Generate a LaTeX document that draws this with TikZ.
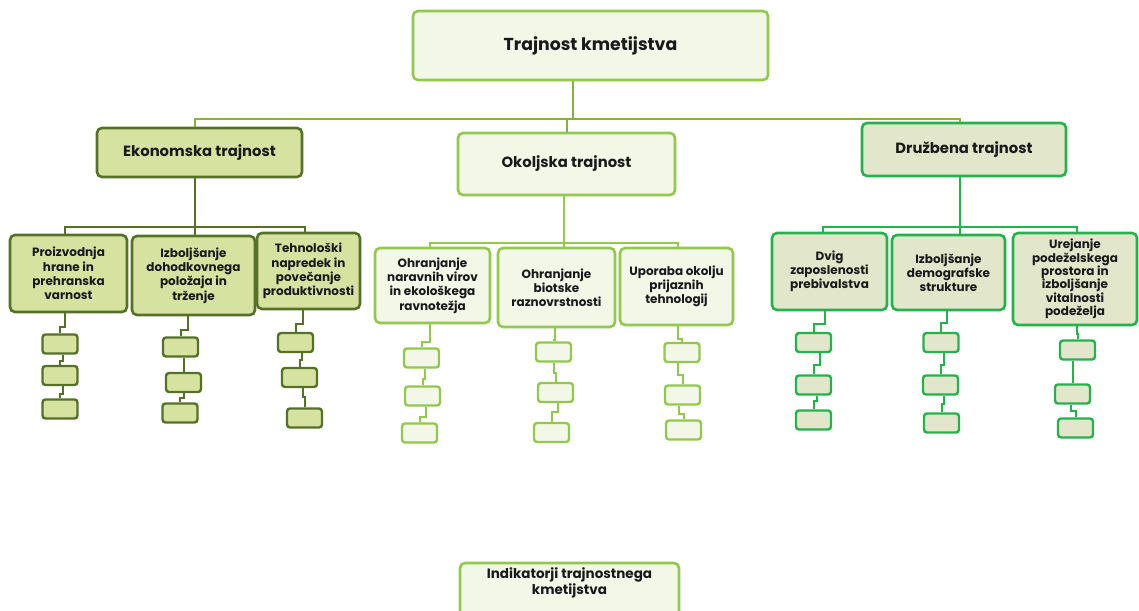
\documentclass[tikz,border=0pt]{standalone}
\usepackage{fontspec}
\setmainfont{Poppins}
\definecolor{lgBorder}{RGB}{146,200,76}
\definecolor{lgFill}{RGB}{243,247,232}
\definecolor{ekBorder}{RGB}{86,112,40}
\definecolor{ekFill}{RGB}{214,227,160}
\definecolor{drBorder}{RGB}{36,178,76}
\definecolor{drFill}{RGB}{226,230,202}
\definecolor{busLine}{RGB}{132,178,62}
\definecolor{txtDark}{RGB}{25,25,25}
\begin{document}
\begin{tikzpicture}[x=1pt,y=-1pt,
  box/.style={rounded corners=5pt, line width=2.6pt, align=center, text=txtDark, inner sep=1pt},
  lightbox/.style={box, draw=lgBorder, fill=lgFill},
  ekobox/.style={box, draw=ekBorder, fill=ekFill},
  druzbox/.style={box, draw=drBorder, fill=drFill},
  leaf/.style={minimum width=35, minimum height=19, inner sep=0pt, rounded corners=3pt, line width=2.4pt},
  headfont/.style={font=\bfseries\fontsize{14.8}{17}\selectfont},
  subfont/.style={font=\bfseries\fontsize{12}{14.2}\selectfont},
  ekoline/.style={draw=ekBorder, line width=2pt},
  okoline/.style={draw=lgBorder, line width=2pt},
  druzline/.style={draw=drBorder, line width=2pt}]
\useasboundingbox (0,0) rectangle (1139,610);
\clip (0,0) rectangle (1139,610);

%Shape: Top box
\node [lightbox, minimum width=355, minimum height=69, font=\bfseries\fontsize{17.3}{20}\selectfont] (T) at (590.5,45.5) {Trajnost kmetijstva};

%Shape: Pillars
\node [ekobox, headfont, minimum width=205, minimum height=49] (E) at (199.5,152.5) {Ekonomska trajnost};
\node [lightbox, headfont, minimum width=217, minimum height=62] (O) at (566.5,164) {Okoljska trajnost};
\node [druzbox, headfont, minimum width=204, minimum height=53] (D) at (964,149.5) {Družbena trajnost};

%Straight Lines: top bus
\coordinate (busT) at (573,119);
\draw [draw=busLine, line width=2pt] (T.south -| busT) -- (busT);
\draw [draw=busLine, line width=2pt] (E.north -| 195,0) |- (busT) -| (D.north -| 960,0);
\draw [draw=busLine, line width=2pt] (O.north) -- (O.north |- busT);

%Shape: Economic goals
\node [ekobox, subfont, minimum width=117, minimum height=77] (E1) at (68.5,273.5) {Proizvodnja\\hrane in\\prehranska\\varnost};
\node [ekobox, subfont, minimum width=123, minimum height=79] (E2) at (193.5,275.5) {Izboljšanje\\dohodkovnega\\položaja in\\trženje};
\node [ekobox, subfont, minimum width=103, minimum height=76] (E3) at (308.5,271) {Tehnološki\\napredek in\\povečanje\\produktivnosti};

%Shape: Environmental goals
\node [lightbox, subfont, minimum width=115, minimum height=75] (O1) at (432.5,285.5) {Ohranjanje\\naravnih virov\\in ekološkega\\ravnotežja};
\node [lightbox, subfont, minimum width=117, minimum height=79] (O2) at (556.5,287.5) {Ohranjanje\\biotske\\raznovrstnosti};
\node [lightbox, subfont, minimum width=113, minimum height=77] (O3) at (676.5,286.5) {Uporaba okolju\\prijaznih\\tehnologij};

%Shape: Social goals
\node [druzbox, subfont, minimum width=115, minimum height=77] (D1) at (829.5,271.5) {Dvig\\zaposlenosti\\prebivalstva};
\node [druzbox, subfont, minimum width=113, minimum height=75] (D2) at (948.5,272.5) {Izboljšanje\\demografske\\strukture};
\node [druzbox, font=\bfseries\fontsize{12}{13.3}\selectfont, minimum width=124, minimum height=92] (D3) at (1075,279) {Urejanje\\podeželskega\\prostora in\\izboljšanje\\vitalnosti\\podeželja};

%Straight Lines: pillar buses
\coordinate (busE) at (195,227);
\draw [ekoline] (E.south -| busE) -- (busE);
\draw [ekoline] (E1.north -| 65,0) |- (busE) -| (E3.north -| 305,0);
\draw [ekoline] (E2.north -| busE) -- (busE);
\coordinate (busO) at (564,243);
\draw [okoline] (O.south -| busO) -- (busO);
\draw [okoline] (O1.north -| 430,0) |- (busO) -| (O3.north -| 678,0);
\draw [okoline] (O2.north -| busO) -- (busO);
\coordinate (busD) at (960,227);
\draw [druzline] (D.south -| busD) -- (busD);
\draw [druzline] (D1.north -| 823,0) |- (busD) -| (D3.north -| 1077,0);
\draw [druzline] (D2.north -| busD) -- (busD);

%Shape: Indicator boxes
\node [ekobox, leaf] (e1a) at (60,344) {};
\node [ekobox, leaf] (e1b) at (60,375.5) {};
\node [ekobox, leaf] (e1c) at (60,409) {};
\node [ekobox, leaf] (e2a) at (180.5,347) {};
\node [ekobox, leaf] (e2b) at (183.5,382.5) {};
\node [ekobox, leaf] (e2c) at (180,413) {};
\node [ekobox, leaf] (e3a) at (295.5,342.5) {};
\node [ekobox, leaf] (e3b) at (299.5,377.5) {};
\node [ekobox, leaf] (e3c) at (304.5,418) {};
\node [lightbox, leaf] (o1a) at (421.5,358) {};
\node [lightbox, leaf] (o1b) at (422.5,396) {};
\node [lightbox, leaf] (o1c) at (419.5,433) {};
\node [lightbox, leaf] (o2a) at (553.5,352) {};
\node [lightbox, leaf] (o2b) at (555.5,392.5) {};
\node [lightbox, leaf] (o2c) at (551.5,432.5) {};
\node [lightbox, leaf] (o3a) at (682,352.5) {};
\node [lightbox, leaf] (o3b) at (682.5,395) {};
\node [lightbox, leaf] (o3c) at (683.5,430) {};
\node [druzbox, leaf] (d1a) at (813.5,342.5) {};
\node [druzbox, leaf] (d1b) at (813.5,385) {};
\node [druzbox, leaf] (d1c) at (813.5,420) {};
\node [druzbox, leaf] (d2a) at (941,342.5) {};
\node [druzbox, leaf] (d2b) at (940.5,385) {};
\node [druzbox, leaf] (d2c) at (941.5,423) {};
\node [druzbox, leaf] (d3a) at (1077.5,350) {};
\node [druzbox, leaf] (d3b) at (1072.5,394) {};
\node [druzbox, leaf] (d3c) at (1075.5,428) {};

%Straight Lines: indicator links
\draw [ekoline] (E1.south -| 65,0) -- ++(0,14) -| (e1a.north);
\draw [ekoline] ([xshift=3]e1a.south) -- ++(0,6) -| (e1b.north);
\draw [ekoline] ([xshift=3]e1b.south) -- ++(0,8) -| (e1c.north);
\draw [ekoline] (E2.south -| 188,0) -- ++(0,14) -| (e2a.north);
\draw [ekoline] ([xshift=3]e2a.south) -- ++(0,8) -| (e2b.north);
\draw [ekoline] (e2b.south) -- ++(0,5) -| (e2c.north);
\draw [ekoline] (E3.south -| 303,0) -- ++(0,14) -| (e3a.north);
\draw [ekoline] ([xshift=6]e3a.south) -- ++(0,7) -| (e3b.north);
\draw [ekoline] ([xshift=3]e3b.south) -- ++(0,9) -| (e3c.north);
\draw [okoline] (O1.south -| 430,0) -- ++(0,18) -| (o1a.north);
\draw [okoline] ([xshift=3]o1a.south) -- ++(0,10) -| (o1b.north);
\draw [okoline] ([xshift=3]o1b.south) -- ++(0,10) -| (o1c.north);
\draw [okoline] (O2.south -| 555,0) -- ++(0,12) -| (o2a.north);
\draw [okoline] (o2a.south) -- ++(0,10) -| (o2b.north);
\draw [okoline] ([xshift=2]o2b.south) -- ++(0,9) -| (o2c.north);
\draw [okoline] (O3.south -| 678,0) -- ++(0,13) -| (o3a.north);
\draw [okoline] ([xshift=-4]o3a.south) -- ++(0,12) -| (o3b.north);
\draw [okoline] ([xshift=-4]o3b.south) -- ++(0,8) -| (o3c.north);
\draw [druzline] (D1.south -| 825,0) -- ++(0,13) -| (d1a.north);
\draw [druzline] ([xshift=6]d1a.south) -- ++(0,12) -| (d1b.north);
\draw [druzline] ([xshift=3]d1b.south) -- ++(0,5) -| (d1c.north);
\draw [druzline] (D2.south -| 947,0) -- ++(0,12) -| (d2a.north);
\draw [druzline] ([xshift=3]d2a.south) -- ++(0,12) -| (d2b.north);
\draw [druzline] ([xshift=3]d2b.south) -- ++(0,8) -| (d2c.north);
\draw [druzline] (D3.south -| 1077,0) -- ++(0,8) -| (d3a.north);
\draw [druzline] ([xshift=-5]d3a.south) -- ++(0,10) -| (d3b.north);
\draw [druzline] ([xshift=-2]d3b.south) -- ++(0,6) -| (d3c.north);

% Text Node: indicators
\node [lightbox, minimum width=219, minimum height=56, text depth=20, font=\bfseries\fontsize{13.5}{16}\selectfont] (I) at (569.5,591) {Indikatorji trajnostnega\\kmetijstva};
\end{tikzpicture}
\end{document}
